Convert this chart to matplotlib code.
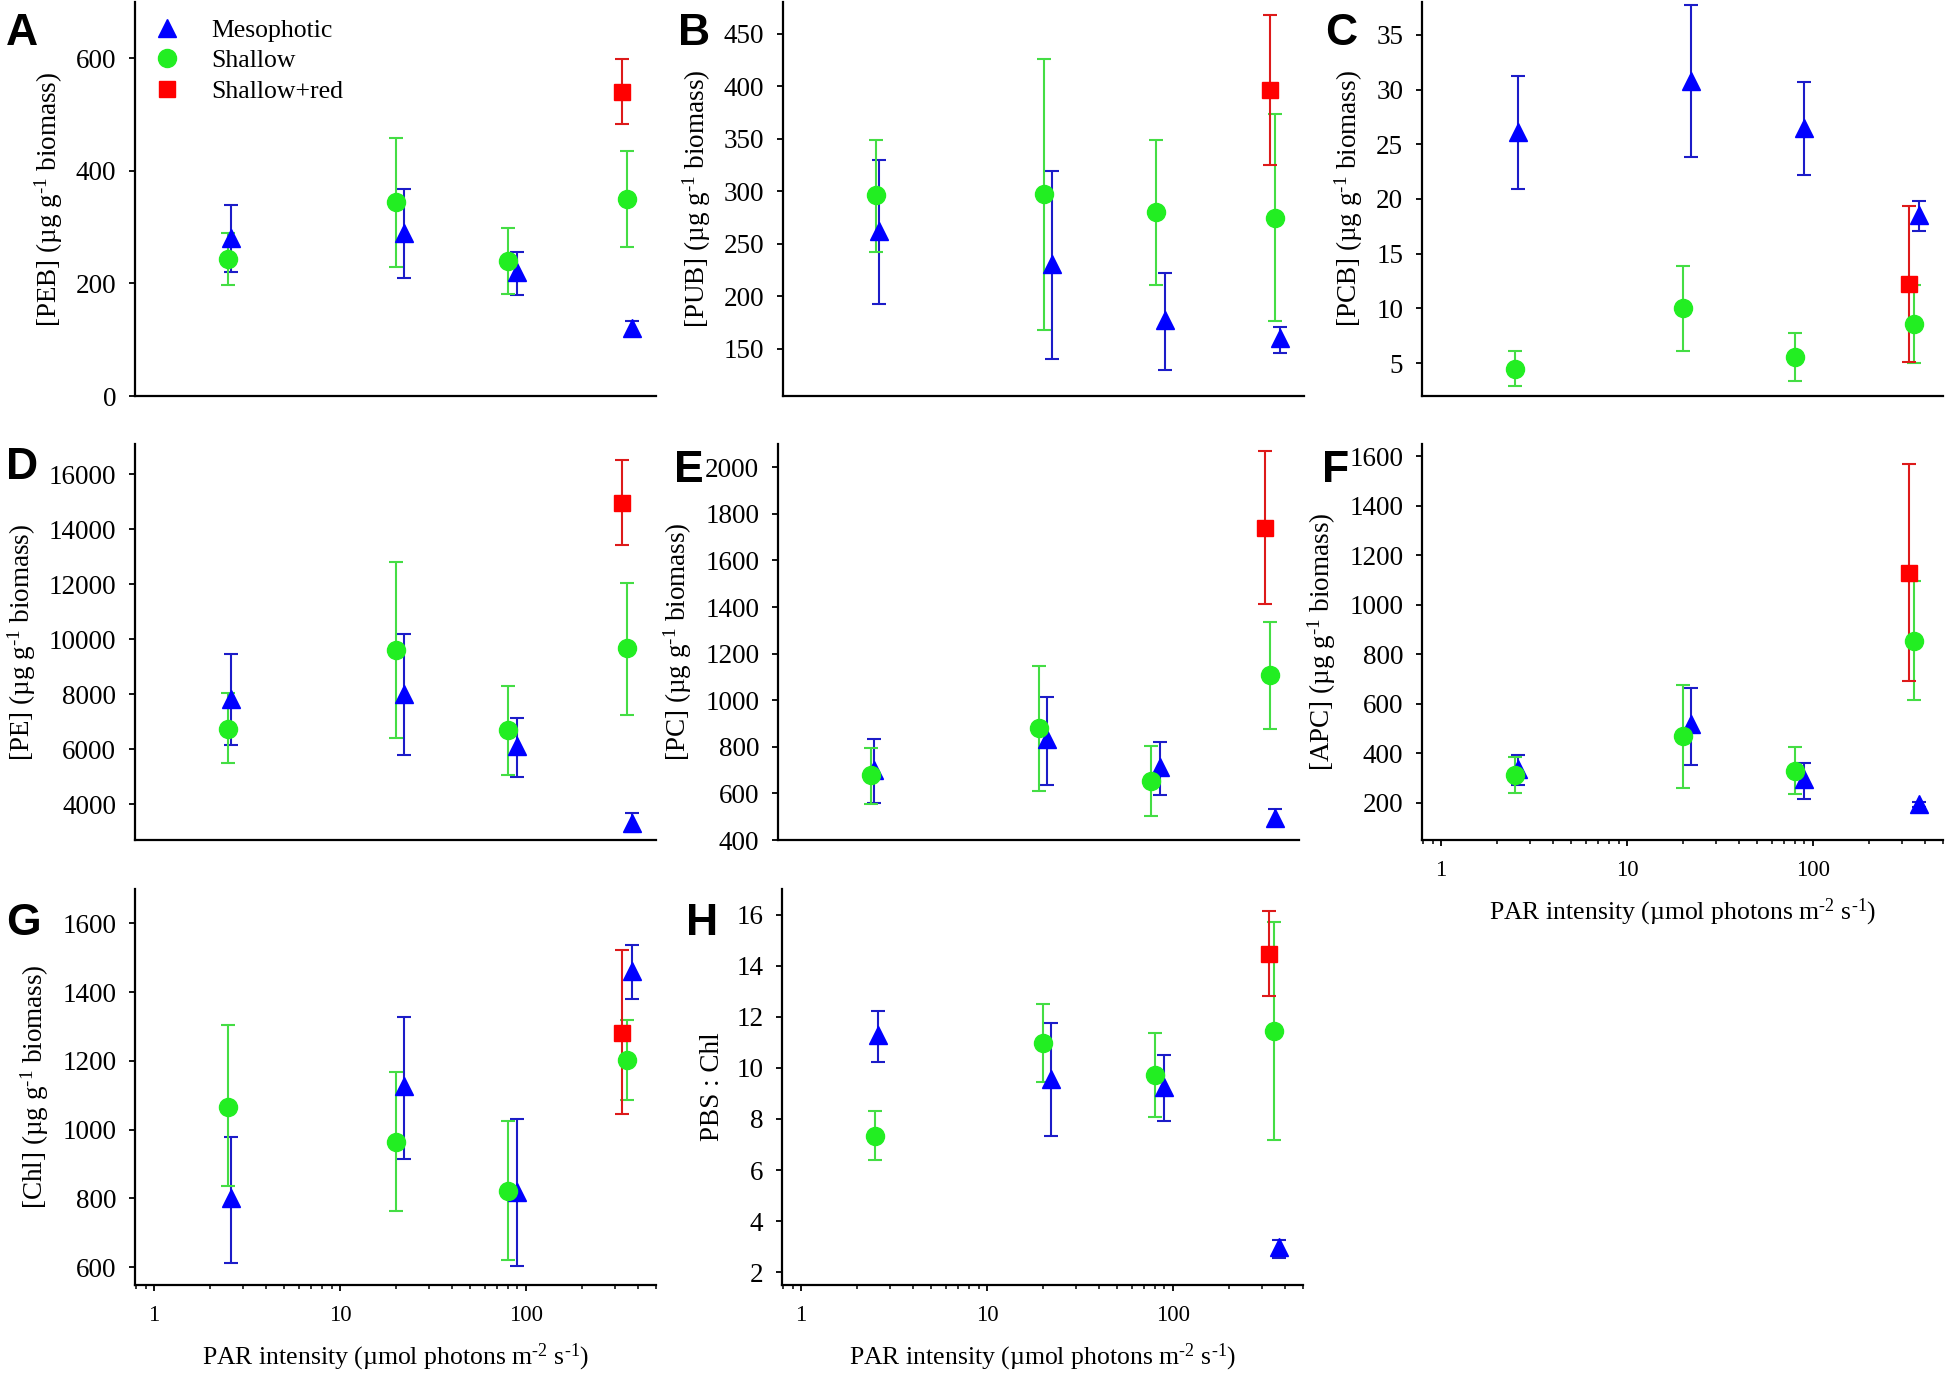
import matplotlib
matplotlib.use("Agg")
import matplotlib.pyplot as plt
from matplotlib.lines import Line2D
from matplotlib.ticker import FixedLocator, LogLocator, NullFormatter, FuncFormatter

plt.rcParams['font.family'] = ['Liberation Serif', 'DejaVu Serif']
plt.rcParams['mathtext.fontset'] = 'custom'
plt.rcParams['mathtext.rm'] = 'Liberation Serif'
plt.rcParams['mathtext.it'] = 'Liberation Serif:italic'

# PAR intensity (x positions of each group)
x_shallow = [2.5, 20, 80, 350]
x_meso = [2.6, 22, 90, 370]
x_red = [330]

# A  [PEB]
peb_meso = [280, 289, 221, 120]
peb_meso_lo = [221, 209, 179, 109]
peb_meso_hi = [339, 367, 256, 134]
peb_shal = [243, 345, 240, 350]
peb_shal_lo = [197, 230, 182, 264]
peb_shal_hi = [289, 459, 298, 436]
peb_red, peb_red_lo, peb_red_hi = [540], [484], [599]

# B  [PUB]
pub_meso = [262, 231, 177, 160]
pub_meso_lo = [193, 140, 130, 146]
pub_meso_hi = [330, 319, 222, 171]
pub_shal = [296, 297, 280, 274]
pub_shal_lo = [242, 168, 211, 176]
pub_shal_hi = [349, 426, 349, 373]
pub_red, pub_red_lo, pub_red_hi = [396], [325], [468]

# C  [PCB]
pcb_meso = [26.1, 30.8, 26.5, 18.5]
pcb_meso_lo = [20.9, 23.8, 22.2, 17.1]
pcb_meso_hi = [31.2, 37.7, 30.7, 19.8]
pcb_shal = [4.5, 10.0, 5.6, 8.6]
pcb_shal_lo = [2.9, 6.1, 3.4, 5.0]
pcb_shal_hi = [6.1, 13.9, 7.8, 12.1]
pcb_red, pcb_red_lo, pcb_red_hi = [12.2], [5.1], [19.4]

# D  [PE]
pe_meso = [7840, 8020, 6110, 3330]
pe_meso_lo = [6140, 5800, 4990, 3000]
pe_meso_hi = [9450, 10190, 7120, 3670]
pe_shal = [6750, 9600, 6690, 9680]
pe_shal_lo = [5490, 6400, 5060, 7260]
pe_shal_hi = [8030, 12810, 8310, 12060]
pe_red, pe_red_lo, pe_red_hi = [14970], [13420], [16510]

# E  [PC]
pc_meso = [699, 833, 713, 493]
pc_meso_lo = [558, 637, 593, 458]
pc_meso_hi = [834, 1012, 821, 531]
pc_shal = [677, 882, 652, 1109]
pc_shal_lo = [555, 611, 501, 877]
pc_shal_hi = [795, 1146, 804, 1337]
pc_red, pc_red_lo, pc_red_hi = [1739], [1412], [2069]

# F  [APC]
apc_meso = [336, 519, 296, 195]
apc_meso_lo = [272, 353, 215, 184]
apc_meso_hi = [395, 665, 361, 205]
apc_shal = [312, 472, 330, 854]
apc_shal_lo = [239, 262, 235, 614]
apc_shal_hi = [384, 678, 424, 1097]
apc_red, apc_red_lo, apc_red_hi = [1130], [692], [1568]

# G  [Chl]
chl_meso = [800, 1126, 819, 1462]
chl_meso_lo = [613, 915, 604, 1380]
chl_meso_hi = [978, 1327, 1032, 1537]
chl_shal = [1067, 965, 822, 1202]
chl_shal_lo = [836, 764, 622, 1085]
chl_shal_hi = [1304, 1167, 1024, 1319]
chl_red, chl_red_lo, chl_red_hi = [1282], [1045], [1522]

# H  PBS : Chl
pbs_meso = [11.28, 9.57, 9.24, 2.97]
pbs_meso_lo = [10.24, 7.34, 7.92, 2.54]
pbs_meso_hi = [12.24, 11.76, 10.52, 3.27]
pbs_shal = [7.34, 10.99, 9.73, 11.44]
pbs_shal_lo = [6.40, 9.44, 8.09, 7.16]
pbs_shal_hi = [8.30, 12.49, 11.38, 15.71]
pbs_red, pbs_red_lo, pbs_red_hi = [14.45], [12.80], [16.12]

BLUE, BLUE_E = '#0000ff', '#1c1cc8'
GREEN, GREEN_E = '#22ee22', '#44dd44'
RED, RED_E = '#ff0000', '#dd1a1a'

W, H = 1946, 1374
fig = plt.figure(figsize=(W / 100, H / 100), dpi=100)

xlabel = "PAR intensity (\u00b5mol photons m$^{\\text{-}2}$ s$^{\\text{-}1}$)"
unit = " (\u00b5g g$^{\\text{-}1}$ biomass)"


def err(mean, lo, hi):
    return [[m - l for m, l in zip(mean, lo)], [h - m for m, h in zip(mean, hi)]]


def panel(box, letter_xy, letter, ylabel, ylim, yticks, meso, shal, red, xaxis=False, legend=False):
    # box = (left, top, width, height) in pixels
    l, t, w, h = box
    ax = fig.add_axes([l / W, 1 - (t + h) / H, w / W, h / H])
    ax.set_xscale('log')
    ax.set_xlim(0.79, 500)
    ax.set_ylim(*ylim)
    kw = dict(elinewidth=1.5, capsize=5, capthick=1.5, linestyle='none')
    ax.errorbar(x_meso, meso[0], yerr=err(*meso), marker='^', color=BLUE, ecolor=BLUE_E,
                markersize=13, **kw)
    ax.errorbar(x_shallow, shal[0], yerr=err(*shal), marker='o', color=GREEN, ecolor=GREEN_E,
                markersize=13, **kw)
    ax.errorbar(x_red, red[0], yerr=err(*red), marker='s', color=RED, ecolor=RED_E,
                markersize=11, **kw)
    for s in ['top', 'right']:
        ax.spines[s].set_visible(False)
    for s in ['left', 'bottom']:
        ax.spines[s].set_linewidth(1.6)
    ax.yaxis.set_major_locator(FixedLocator(yticks))
    ax.tick_params(axis='y', direction='out', length=4.5, width=1.3, labelsize=19.5, pad=9)
    if xaxis:
        ax.xaxis.set_major_locator(LogLocator(base=10, numticks=10))
        ax.xaxis.set_minor_locator(LogLocator(base=10, subs=range(2, 10), numticks=10))
        ax.xaxis.set_major_formatter(FuncFormatter(lambda v, p: f"{v:g}"))
        ax.xaxis.set_minor_formatter(NullFormatter())
        ax.tick_params(axis='x', which='major', direction='out', length=4.5, width=1.3,
                       labelsize=16.5, pad=10)
        ax.tick_params(axis='x', which='minor', direction='out', length=2.8, width=1.1)
        ax.set_xlabel(xlabel, fontsize=18.5, labelpad=11)
    else:
        ax.tick_params(axis='x', which='both', bottom=False, labelbottom=False)
    ax.set_ylabel(ylabel, fontsize=19.5, labelpad=8)
    if legend:
        handles = [Line2D([], [], linestyle='none', marker='^', color=BLUE, markersize=13),
                   Line2D([], [], linestyle='none', marker='o', color=GREEN, markersize=13),
                   Line2D([], [], linestyle='none', marker='s', color=RED, markersize=11)]
        ax.legend(handles, ['Mesophotic', 'Shallow', 'Shallow+red'], loc='upper left',
                  bbox_to_anchor=(0.036, 0.958), borderaxespad=0, borderpad=0, frameon=False,
                  fontsize=18.5, handlelength=1.0, handletextpad=1.25, labelspacing=0.3)
    fig.text(letter_xy[0] / W, 1 - letter_xy[1] / H, letter, fontsize=32, fontweight='bold',
             family='Liberation Sans', va='top', ha='left')
    return ax


cols = [135, 783, 1422]
wid = 521
rows = [(2, 394), (444, 396), (889, 396)]

panel((cols[0], rows[0][0], wid, rows[0][1]), (6, 13), 'A', '[PEB]' + unit, (0, 700), [0, 200, 400, 600],
      (peb_meso, peb_meso_lo, peb_meso_hi), (peb_shal, peb_shal_lo, peb_shal_hi),
      (peb_red, peb_red_lo, peb_red_hi), legend=True)
panel((cols[1], rows[0][0], wid, rows[0][1]), (678, 13), 'B', '[PUB]' + unit, (105, 480), range(150, 451, 50),
      (pub_meso, pub_meso_lo, pub_meso_hi), (pub_shal, pub_shal_lo, pub_shal_hi),
      (pub_red, pub_red_lo, pub_red_hi))
panel((cols[2], rows[0][0], wid, rows[0][1]), (1325, 13), 'C', '[PCB]' + unit, (2, 38), range(5, 36, 5),
      (pcb_meso, pcb_meso_lo, pcb_meso_hi), (pcb_shal, pcb_shal_lo, pcb_shal_hi),
      (pcb_red, pcb_red_lo, pcb_red_hi))
panel((cols[0], rows[1][0], wid, rows[1][1]), (6, 447), 'D', '[PE]' + unit, (2700, 17100), range(4000, 16001, 2000),
      (pe_meso, pe_meso_lo, pe_meso_hi), (pe_shal, pe_shal_lo, pe_shal_hi),
      (pe_red, pe_red_lo, pe_red_hi))
panel((cols[1] - 5, rows[1][0], wid, rows[1][1]), (674, 450), 'E', '[PC]' + unit, (400, 2100), range(400, 2001, 200),
      (pc_meso, pc_meso_lo, pc_meso_hi), (pc_shal, pc_shal_lo, pc_shal_hi),
      (pc_red, pc_red_lo, pc_red_hi))
panel((cols[2], rows[1][0], wid, rows[1][1]), (1322, 450), 'F', '[APC]' + unit, (50, 1650), range(200, 1601, 200),
      (apc_meso, apc_meso_lo, apc_meso_hi), (apc_shal, apc_shal_lo, apc_shal_hi),
      (apc_red, apc_red_lo, apc_red_hi), xaxis=True)
panel((cols[0], rows[2][0], wid, rows[2][1]), (6, 903), 'G', '[Chl]' + unit, (548, 1700), range(600, 1601, 200),
      (chl_meso, chl_meso_lo, chl_meso_hi), (chl_shal, chl_shal_lo, chl_shal_hi),
      (chl_red, chl_red_lo, chl_red_hi), xaxis=True)
panel((cols[1] - 1, rows[2][0], wid, rows[2][1]), (686, 903), 'H', 'PBS : Chl', (1.5, 17), range(2, 17, 2),
      (pbs_meso, pbs_meso_lo, pbs_meso_hi), (pbs_shal, pbs_shal_lo, pbs_shal_hi),
      (pbs_red, pbs_red_lo, pbs_red_hi), xaxis=True)

fig.savefig("out.png", dpi=100)
